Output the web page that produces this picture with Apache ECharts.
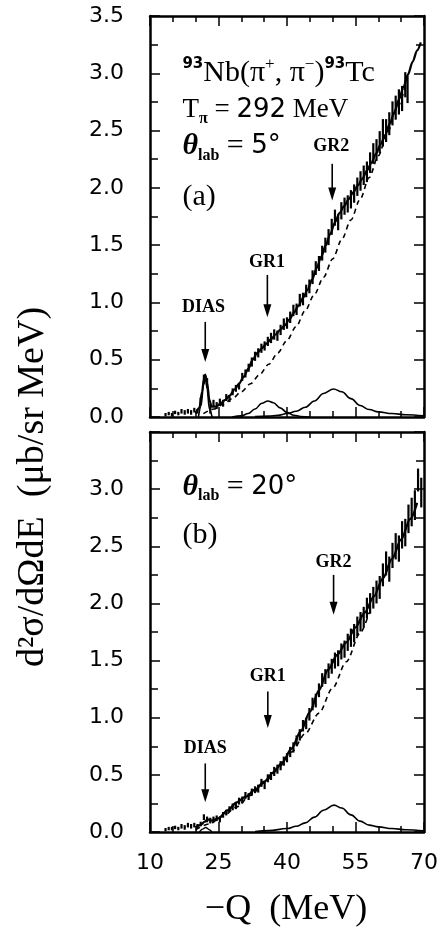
<!DOCTYPE html>
<html><head><meta charset="utf-8">
<script src="https://cdn.jsdelivr.net/npm/echarts@6/dist/echarts.min.js"></script>
<style>html,body{margin:0;padding:0;background:#fff}#c{width:443px;height:932px}</style>
</head><body><div id="c"></div>
<script>
// ---------- axes ----------
const xMin = 10, xMax = 70, xStep = 15;
const yMin = 0, yMax = 3.5, yStep = 0.5;

// ---------- panel (a): theta = 5 deg ----------
const topDataX = [13.4,14.1,14.8,15.5,16.2,16.9,17.6,18.3,19.0,19.7,20.4,21.1,21.8,22.5,23.2,23.9,24.6,25.3,26.0,26.7,27.4,28.1,28.8,29.5,30.2,30.9,31.6,32.3,33.0,33.7,34.4,35.1,35.8,36.5,37.2,37.9,38.6,39.3,40.0,40.7,41.4,42.1,42.8,43.5,44.2,44.9,45.6,46.3,47.0,47.7,48.4,49.1,49.8,50.5,51.2,51.9,52.6,53.3,54.0,54.7,55.4,56.1,56.8,57.5,58.2,58.9,59.6,60.3,61.0,61.7,62.4,63.1,63.8,64.5,65.2,65.9,66.4];
const topDataY = [0.02,0.03,0.02,0.04,0.03,0.05,0.04,0.05,0.04,0.06,0.05,0.14,0.33,0.30,0.07,0.12,0.10,0.13,0.12,0.17,0.16,0.22,0.25,0.27,0.35,0.38,0.43,0.48,0.53,0.56,0.60,0.62,0.66,0.69,0.72,0.71,0.76,0.81,0.82,0.87,0.93,0.94,1.02,1.03,1.10,1.14,1.22,1.30,1.34,1.43,1.50,1.57,1.66,1.74,1.70,1.80,1.84,1.86,1.90,1.95,2.01,2.06,2.11,2.14,2.22,2.30,2.33,2.40,2.48,2.50,2.56,2.65,2.70,2.75,2.78,2.90,2.86];
const topDataErr = [0.015,0.015,0.015,0.015,0.015,0.02,0.02,0.02,0.02,0.02,0.02,0.03,0.04,0.04,0.04,0.03,0.03,0.03,0.03,0.03,0.03,0.03,0.03,0.03,0.035,0.035,0.035,0.04,0.04,0.04,0.04,0.04,0.04,0.045,0.045,0.045,0.045,0.05,0.05,0.05,0.05,0.05,0.055,0.055,0.055,0.06,0.06,0.06,0.065,0.065,0.065,0.07,0.07,0.07,0.07,0.075,0.075,0.075,0.08,0.08,0.08,0.085,0.085,0.09,0.09,0.09,0.095,0.095,0.12,0.1,0.1,0.105,0.105,0.11,0.11,0.11,0.12];

const topFitX = [20.0,20.8,21.4,21.8,22.1,22.5,23.0,23.5,24.5,25.5,26.5,27.5,28.5,29.5,30.5,31.5,32.5,33.5,34.5,35.5,36.5,37.5,38.5,39.5,40.5,41.5,42.5,43.5,44.5,45.5,46.5,47.5,48.5,49.5,50.5,51.5,52.5,53.5,54.5,55.5,56.5,57.5,58.5,59.5,60.5,61.5,62.5,63.5,64.5,65.5,66.5,67.5,68.5,69.3];
const topFitY = [0.03,0.08,0.22,0.33,0.37,0.30,0.15,0.09,0.09,0.12,0.15,0.19,0.24,0.29,0.35,0.42,0.50,0.56,0.60,0.64,0.68,0.72,0.76,0.80,0.85,0.91,0.97,1.04,1.11,1.20,1.30,1.40,1.50,1.60,1.70,1.78,1.84,1.90,1.96,2.02,2.08,2.15,2.22,2.30,2.38,2.46,2.56,2.66,2.77,2.88,2.99,3.10,3.20,3.27];

const topBgX = [21.7,24,26,28,30,32,34,36,38,40,42,44,46,48,50,52,54,56,58,60,62,64,66];
const topBgY = [0.03,0.07,0.11,0.16,0.22,0.29,0.37,0.46,0.56,0.67,0.79,0.93,1.07,1.22,1.38,1.55,1.72,1.90,2.09,2.28,2.48,2.69,2.90];

const topDiasX = [20.6,21.2,21.7,22.1,22.5,23.0,23.6];
const topDiasY = [0.0,0.10,0.28,0.34,0.25,0.07,0.0];

const topGr1X = [28,30,31.5,33,34.5,35.8,37,38.5,40,41.5,43,45];
const topGr1Y = [0.0,0.01,0.03,0.07,0.12,0.14,0.125,0.08,0.04,0.015,0.005,0.0];

const topGr2X = [33,36,38,40,42,44,46,48,50.2,52,54,56,58,60,63,66,70];
const topGr2Y = [0.003,0.008,0.015,0.03,0.05,0.085,0.14,0.205,0.245,0.22,0.16,0.10,0.065,0.045,0.03,0.02,0.01];

// ---------- panel (b): theta = 20 deg ----------
const botDataX = [13.4,14.1,14.8,15.5,16.2,16.9,17.6,18.3,19.0,19.7,20.4,21.1,21.8,22.5,23.2,23.9,24.6,25.3,26.0,26.7,27.4,28.1,28.8,29.5,30.2,30.9,31.6,32.3,33.0,33.7,34.4,35.1,35.8,36.5,37.2,37.9,38.6,39.3,40.0,40.7,41.4,42.1,42.8,43.5,44.2,44.9,45.6,46.3,47.0,47.7,48.4,49.1,49.8,50.5,51.2,51.9,52.6,53.3,54.0,54.7,55.4,56.1,56.8,57.5,58.2,58.9,59.6,60.3,61.0,61.7,62.4,63.1,63.8,64.5,65.2,65.9,66.6,67.3,68.0,68.7,69.4];
const botDataY = [0.02,0.03,0.03,0.04,0.03,0.05,0.04,0.06,0.05,0.06,0.05,0.07,0.13,0.11,0.10,0.11,0.12,0.11,0.15,0.17,0.20,0.22,0.23,0.27,0.28,0.32,0.31,0.35,0.37,0.38,0.43,0.41,0.47,0.49,0.53,0.55,0.58,0.62,0.65,0.70,0.74,0.80,0.85,0.93,0.95,1.03,1.12,1.15,1.24,1.33,1.36,1.41,1.45,1.50,1.52,1.58,1.60,1.66,1.70,1.74,1.80,1.84,1.88,1.96,2.00,2.05,2.10,2.14,2.25,2.35,2.30,2.42,2.50,2.48,2.60,2.62,2.74,2.80,2.86,3.08,2.97];
const botDataErr = [0.015,0.015,0.015,0.015,0.015,0.02,0.02,0.02,0.02,0.02,0.02,0.02,0.025,0.025,0.025,0.025,0.025,0.025,0.025,0.025,0.025,0.03,0.03,0.03,0.03,0.03,0.03,0.03,0.03,0.035,0.035,0.035,0.035,0.035,0.04,0.04,0.04,0.04,0.04,0.045,0.045,0.045,0.05,0.05,0.05,0.055,0.055,0.06,0.06,0.06,0.065,0.065,0.065,0.07,0.07,0.07,0.075,0.075,0.08,0.08,0.085,0.085,0.09,0.09,0.09,0.095,0.1,0.1,0.1,0.105,0.11,0.11,0.115,0.115,0.12,0.12,0.125,0.125,0.13,0.1,0.13];

const botFitX = [20,21,22,22.6,23.5,25,27,29,31,33,35,37,39,41,43,45,47,49,51,53,55,57,59,61,63,65,67,68.5];
const botFitY = [0.04,0.06,0.09,0.11,0.10,0.12,0.19,0.26,0.31,0.37,0.44,0.52,0.61,0.73,0.88,1.05,1.24,1.42,1.55,1.66,1.79,1.92,2.06,2.22,2.39,2.56,2.74,2.88];

const botBgX = [20,23,26,29,32,35,38,41,44,47,50,53,56,58];
const botBgY = [0.02,0.07,0.14,0.22,0.32,0.43,0.56,0.70,0.86,1.04,1.26,1.49,1.74,1.92];

const botDiasX = [20.8,21.5,22.2,23.0,23.6];
const botDiasY = [0.0,0.025,0.04,0.02,0.0];

const botGr2X = [33,36,40,42,44,46,48,50.3,52,54,56,58,60,63,66,70];
const botGr2Y = [0.005,0.012,0.03,0.05,0.08,0.13,0.19,0.235,0.21,0.15,0.095,0.06,0.045,0.03,0.02,0.01];

// ---------- helpers ----------
const zip2 = (a, b) => a.map((v, i) => [v, b[i]]);
const zip3 = (a, b, c) => a.map((v, i) => [v, b[i], c[i]]);

const serif = '"Liberation Serif", "DejaVu Serif", serif';
const sans = '"DejaVu Sans", sans-serif';

function xAxisDef(grid, pos, labels) {
  return {
    type: 'value', gridIndex: grid, position: pos, min: xMin, max: xMax, interval: xStep,
    splitLine: { show: false },
    axisLine: { show: true, onZero: false, lineStyle: { color: '#000', width: 2.5 } },
    axisTick: { show: true, inside: true, length: 10, lineStyle: { color: '#000', width: 1.5 } },
    minorTick: { show: true, splitNumber: 3, length: 6, lineStyle: { color: '#000', width: 1.5 } },
    axisLabel: { show: labels, margin: 20, color: '#000', fontFamily: sans, fontSize: 22 }
  };
}
function yAxisDef(grid, pos, labels, hideTop) {
  return {
    type: 'value', gridIndex: grid, position: pos, min: yMin, max: yMax, interval: yStep,
    splitLine: { show: false },
    axisLine: { show: true, onZero: false, lineStyle: { color: '#000', width: 2.5 } },
    axisTick: { show: true, inside: true, length: 10, lineStyle: { color: '#000', width: 1.5 } },
    minorTick: { show: true, splitNumber: 2, length: 8, lineStyle: { color: '#000', width: 1.5 } },
    axisLabel: {
      show: labels, margin: 26, color: '#000', fontFamily: sans, fontSize: 22,
      formatter: v => (hideTop && v > 3.25) ? '' : v.toFixed(1)
    }
  };
}

function errRender(params, api) {
  const x = api.value(0), y = api.value(1), e = api.value(2);
  const p1 = api.coord([x, Math.max(0, y - e)]);
  const p2 = api.coord([x, y + e]);
  return { type: 'line', shape: { x1: p1[0], y1: p1[1], x2: p2[0], y2: p2[1] },
           style: { stroke: '#000', lineWidth: 2.2 } };
}
function lineSeries(xi, yi, data, width, dashed, smooth) {
  return {
    type: 'line', xAxisIndex: xi, yAxisIndex: yi, data: data, showSymbol: false, symbol: 'none',
    smooth: smooth, smoothMonotone: 'x', silent: true, animation: false,
    lineStyle: { color: '#000', width: width, type: dashed ? [5, 4] : 'solid' }
  };
}

const option = {
  animation: false,
  backgroundColor: '#fff',
  grid: [
    { left: 150, right: 19, top: 16, height: 401 },
    { left: 150, right: 19, top: 432, height: 400 }
  ],
  xAxis: [xAxisDef(0, 'bottom', false), xAxisDef(0, 'top', false), xAxisDef(1, 'bottom', true), xAxisDef(1, 'top', false)],
  yAxis: [yAxisDef(0, 'left', true, false), yAxisDef(0, 'right', false, false), yAxisDef(1, 'left', true, true), yAxisDef(1, 'right', false, false)],
  series: [
    lineSeries(0, 0, zip2(topBgX, topBgY), 1.6, true, 0.3),
    lineSeries(0, 0, zip2(topGr1X, topGr1Y), 1.6, false, 0.4),
    lineSeries(0, 0, zip2(topGr2X, topGr2Y), 1.6, false, 0.4),
    lineSeries(0, 0, zip2(topDiasX, topDiasY), 1.6, false, 0.3),
    lineSeries(0, 0, zip2(topFitX, topFitY), 2.2, false, 0.3),
    { type: 'custom', xAxisIndex: 0, yAxisIndex: 0, renderItem: errRender, data: zip3(topDataX, topDataY, topDataErr), silent: true, animation: false },
    lineSeries(2, 2, zip2(botBgX, botBgY), 1.6, true, 0.3),
    lineSeries(2, 2, zip2(botGr2X, botGr2Y), 1.6, false, 0.4),
    lineSeries(2, 2, zip2(botDiasX, botDiasY), 1.4, false, 0.3),
    lineSeries(2, 2, zip2(botFitX, botFitY), 2.2, false, 0.3),
    { type: 'custom', xAxisIndex: 2, yAxisIndex: 2, renderItem: errRender, data: zip3(botDataX, botDataY, botDataErr), silent: true, animation: false }
  ]
};

const chart = echarts.init(document.getElementById('c'), null, { renderer: 'canvas' });
chart.setOption(option);

// ---------- annotations (positions in data units) ----------
const annotLayout = {
  top: {
    series: 4,
    labels: [['DIAS', 21.7, 0.96], ['GR1', 35.6, 1.35], ['GR2', 49.7, 2.36]],
    arrows: [[22.1, 0.83, 0.48], [35.7, 1.24, 0.87], [49.9, 2.21, 1.89]]
  },
  bot: {
    series: 9,
    labels: [['DIAS', 22.1, 0.73], ['GR1', 35.8, 1.36], ['GR2', 50.2, 2.36]],
    arrows: [[22.1, 0.60, 0.26], [35.8, 1.23, 0.91], [50.2, 2.25, 1.90]]
  }
};

const graphics = [];
function P(si, x, y) { return chart.convertToPixel({ seriesIndex: si }, [x, y]); }
function addPanel(cfg) {
  cfg.labels.forEach(l => {
    const p = P(cfg.series, l[1], l[2]);
    graphics.push({ type: 'text', x: p[0], y: p[1], silent: true,
      style: { text: l[0], fill: '#000', font: 'bold 18px ' + serif, align: 'center', verticalAlign: 'middle', textAlign: 'center', textVerticalAlign: 'middle' } });
  });
  cfg.arrows.forEach(a => {
    const p1 = P(cfg.series, a[0], a[1]);
    const p2 = P(cfg.series, a[0], a[2]);
    graphics.push({ type: 'line', silent: true, shape: { x1: p1[0], y1: p1[1], x2: p2[0], y2: p2[1] - 10 }, style: { stroke: '#000', lineWidth: 1.6 } });
    graphics.push({ type: 'polygon', silent: true, shape: { points: [[p2[0] - 4, p2[1] - 13], [p2[0] + 4, p2[1] - 13], [p2[0], p2[1]]] }, style: { fill: '#000' } });
  });
}
addPanel(annotLayout.top);
addPanel(annotLayout.bot);

const rich = {
  n: { fontFamily: serif, fontSize: 30, lineHeight: 34, verticalAlign: 'middle', fill: '#000', color: '#000' },
  n27: { fontFamily: serif, fontSize: 27, lineHeight: 34, verticalAlign: 'middle', color: '#000' },
  sup: { fontFamily: sans, fontSize: 15, fontWeight: 'bold', lineHeight: 18, verticalAlign: 'top', color: '#000' },
  supn: { fontFamily: serif, fontSize: 17, lineHeight: 18, verticalAlign: 'top', color: '#000' },
  sub: { fontFamily: serif, fontSize: 16, fontWeight: 'bold', lineHeight: 16, verticalAlign: 'bottom', color: '#000' },
  th: { fontFamily: serif, fontSize: 30, fontStyle: 'italic', fontWeight: 'bold', lineHeight: 34, verticalAlign: 'middle', color: '#000' },
  num: { fontFamily: sans, fontSize: 26, lineHeight: 34, verticalAlign: 'middle', color: '#000' }
};
function richText(si, x, y, txt) {
  const p = P(si, x, y);
  graphics.push({ type: 'text', x: p[0], y: p[1], silent: true,
    style: { text: txt, rich: rich, fill: '#000', align: 'left', verticalAlign: 'middle', textAlign: 'left', textVerticalAlign: 'middle' } });
}
richText(4, 17.1, 3.0, '{sup|93}{n|Nb(π}{supn|+}{n|, π}{supn|−}{n|)}{sup|93}{n|Tc}');
richText(4, 17.1, 2.68, '{n27|T}{sub|π}{n27| = }{num|292}{n27| MeV}');
richText(4, 17.1, 2.36, '{th|θ}{sub|lab}{n| = }{num|5°}');
richText(4, 17.1, 1.92, '{n|(a)}');
richText(9, 17.1, 3.02, '{th|θ}{sub|lab}{n| = }{num|20°}');
richText(9, 17.1, 2.60, '{n|(b)}');

// axis titles
graphics.push({ type: 'text', x: 33, y: 487, rotation: Math.PI / 2, silent: true,
  style: { text: 'd²σ/dΩdE  (μb/sr MeV)', fill: '#000', font: '38px ' + serif, align: 'center', verticalAlign: 'middle', textAlign: 'center', textVerticalAlign: 'middle' } });
graphics.push({ type: 'text', x: 286, y: 910, silent: true,
  style: { text: '−Q  (MeV)', fill: '#000', font: '36px ' + serif, align: 'center', verticalAlign: 'middle', textAlign: 'center', textVerticalAlign: 'middle' } });

chart.setOption({ graphic: graphics });
</script>
</body></html>
